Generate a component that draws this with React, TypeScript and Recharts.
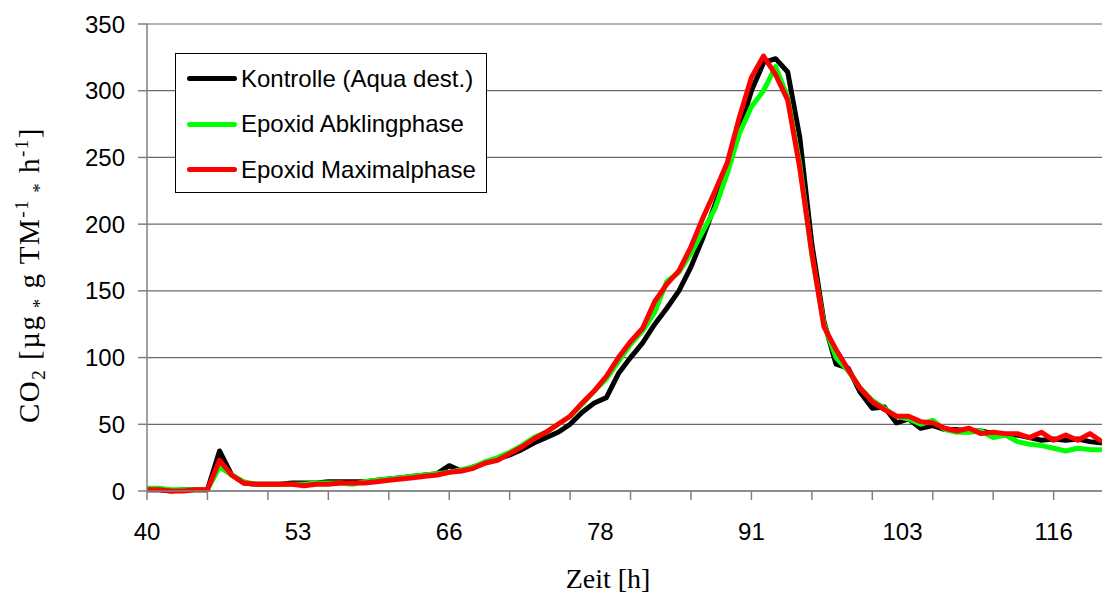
import { LineChart, Line, XAxis, YAxis, CartesianGrid, Label } from "recharts";

// sample number (approx. 0.5 h steps), every second sample
const samples = [
  0, 2, 4, 6, 8, 10, 12, 14, 16, 18, 20, 22, 24, 26, 28, 30, 32, 34, 36, 38,
  40, 42, 44, 46, 48, 50, 52, 54, 56, 58, 60, 62, 64, 66, 68, 70, 72, 74, 76, 78,
  80, 82, 84, 86, 88, 90, 92, 94, 96, 98, 100, 102, 104, 106, 108, 110, 112, 114, 116, 118,
  120, 122, 124, 126, 128, 130, 132, 134, 136, 138, 140, 142, 144, 146, 148, 150, 152, 154, 156, 158,
];

const kontrolle = [
  1, 1, 0, 1, 1, 1, 30, 12, 6, 5, 5, 5, 6, 6, 6, 7, 7, 7, 7, 8,
  9, 10, 11, 12, 13, 19, 15, 18, 21, 24, 27, 31, 36, 40, 44, 50, 59, 66, 70, 88,
  100, 111, 125, 137, 150, 168, 190, 215, 240, 270, 300, 321, 324, 314, 265, 185, 127, 95, 92, 74,
  62, 63, 51, 54, 47, 49, 46, 46, 45, 45, 43, 42, 42, 40, 38, 39, 38, 39, 37, 36,
];

const abklingphase = [
  2, 2, 1, 1, 1, 1, 18, 12, 7, 5, 5, 5, 5, 5, 6, 6, 6, 5, 7, 8,
  9, 10, 11, 12, 13, 14, 16, 18, 22, 25, 29, 34, 40, 44, 50, 56, 65, 75, 84, 97,
  110, 120, 134, 157, 164, 178, 195, 212, 238, 268, 288, 300, 318, 295, 245, 177, 125, 100, 90, 77,
  68, 62, 56, 54, 50, 53, 46, 44, 44, 45, 40, 42, 37, 35, 34, 32, 30, 32, 31, 31,
];

const maximalphase = [
  1, 1, 0, 0, 1, 1, 23, 12, 6, 5, 5, 5, 5, 4, 5, 5, 6, 6, 6, 7,
  8, 9, 10, 11, 12, 14, 15, 17, 21, 23, 28, 33, 39, 44, 50, 56, 66, 75, 86, 100,
  112, 122, 142, 155, 165, 183, 205, 225, 246, 280, 310, 326, 312, 293, 242, 178, 123, 106, 91, 77,
  67, 61, 56, 56, 52, 51, 47, 45, 47, 43, 44, 43, 43, 40, 44, 38, 42, 38, 43, 37,
];

const seriesNames = ["Kontrolle (Aqua dest.)", "Epoxid Abklingphase", "Epoxid Maximalphase"];
const seriesColors = ["#000000", "#00ff00", "#ff0000"];

// label every 25 samples, tick mark every 10 samples
const labelSamples = [0, 25, 50, 75, 100, 125, 150];
const labelTexts = ["40", "53", "66", "78", "91", "103", "116"];
const minorSamples = [0, 10, 20, 30, 40, 50, 60, 70, 80, 90, 100, 110, 120, 130, 140, 150];
const yTicks = [0, 50, 100, 150, 200, 250, 300, 350];

const data = samples.map((s, i) => ({
  s,
  kontrolle: kontrolle[i],
  abkling: abklingphase[i],
  maximal: maximalphase[i],
}));

const allTicks = Array.from(new Set([...minorSamples, ...labelSamples])).sort((a, b) => a - b);

const SANS = "'Liberation Sans', Arial, sans-serif";
const SERIF = "'Liberation Serif', 'Times New Roman', serif";
const AXIS = "#808080";

const XTick = (props: any) => {
  const { x, y, payload } = props;
  const v = payload.value;
  const li = labelSamples.indexOf(v);
  return (
    <g>
      {minorSamples.includes(v) && <line x1={x} x2={x} y1={y} y2={y + 9} stroke={AXIS} strokeWidth={1.5} />}
      {li >= 0 && (
        <text x={x} y={y + 49} textAnchor="middle" fontFamily={SANS} fontSize={24} fill="#000">
          {labelTexts[li]}
        </text>
      )}
    </g>
  );
};

const YTitle = () => (
  <text
    transform="rotate(-90)"
    x={-275}
    y={39}
    textAnchor="middle"
    fontFamily={SERIF}
    fontSize={29}
    letterSpacing={1.5}
    fill="#000"
  >
    CO<tspan dy={6} fontSize={19}>2</tspan>
    <tspan dy={-6}> [µg</tspan>
    <tspan dy={7} fontSize={19}> *</tspan>
    <tspan dy={-7}> g TM</tspan>
    <tspan dy={-11} fontSize={19}>-1</tspan>
    <tspan dy={18} fontSize={19}> *</tspan>
    <tspan dy={-7}> h</tspan>
    <tspan dy={-11} fontSize={19}>-1</tspan>
    <tspan dy={11}>]</tspan>
  </text>
);

const LegendBox = () => (
  <div
    style={{
      position: "absolute",
      left: 175,
      top: 53,
      width: 310,
      height: 136,
      border: "1.5px solid #000",
      background: "#fff",
      paddingTop: 2,
    }}
  >
    {seriesNames.map((name, i) => (
      <div key={name} style={{ display: "flex", alignItems: "center", height: 45.5 }}>
        <div
          style={{ width: 50, height: 5, borderRadius: 3, background: seriesColors[i], marginLeft: 11, marginRight: 4 }}
        />
        <span style={{ fontFamily: SANS, fontSize: 24, color: "#000", whiteSpace: "nowrap" }}>{name}</span>
      </div>
    ))}
  </div>
);

export default function App() {
  return (
    <div style={{ position: "absolute", left: 0, top: 0, width: 1102, height: 599, background: "#fff" }}>
      <LineChart width={1102} height={599} data={data} margin={{ top: 24, right: 0, bottom: 0, left: 0 }}>
        <CartesianGrid vertical={false} stroke="#6a6a6a" strokeWidth={1.2} />
        <XAxis
          dataKey="s"
          type="number"
          domain={[0, 158]}
          ticks={allTicks}
          interval={0}
          height={108}
          tickSize={0}
          tickMargin={0}
          tickLine={false}
          axisLine={{ stroke: AXIS, strokeWidth: 1.5 }}
          tick={<XTick />}
        >
          <Label
            content={() => (
              <text x={608} y={588} textAnchor="middle" fontFamily={SERIF} fontSize={28} fill="#000">
                Zeit [h]
              </text>
            )}
          />
        </XAxis>
        <YAxis
          type="number"
          domain={[0, 350]}
          ticks={yTicks}
          interval={0}
          width={147}
          tickSize={9}
          tickMargin={13}
          tickLine={{ stroke: AXIS, strokeWidth: 1.5 }}
          axisLine={{ stroke: AXIS, strokeWidth: 1.5 }}
          tick={{ fontFamily: SANS, fontSize: 24, fill: "#000" }}
        >
          <Label content={YTitle} />
        </YAxis>
        {["kontrolle", "abkling", "maximal"].map((key, i) => (
          <Line
            key={key}
            type="linear"
            dataKey={key}
            name={seriesNames[i]}
            stroke={seriesColors[i]}
            strokeWidth={5}
            strokeLinejoin="round"
            dot={false}
            isAnimationActive={false}
          />
        ))}
      </LineChart>
      <LegendBox />
    </div>
  );
}
